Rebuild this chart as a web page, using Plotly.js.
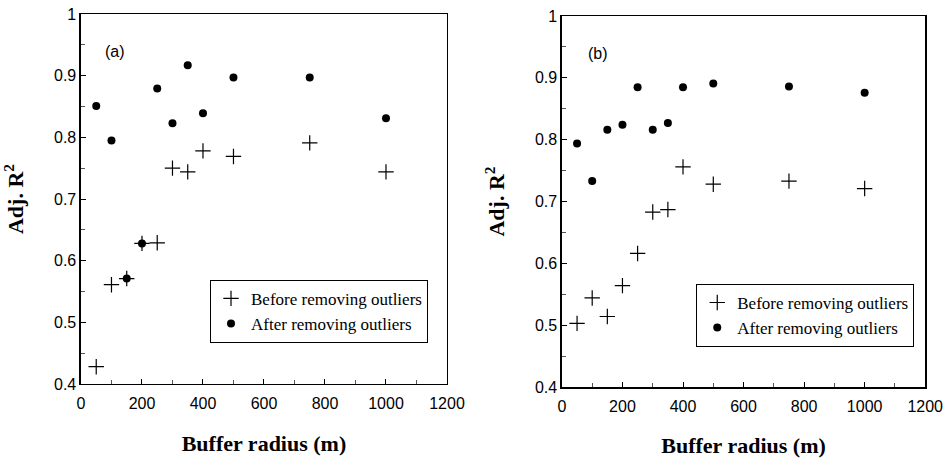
<!DOCTYPE html>
<html>
<head>
<meta charset="utf-8">
<script src="https://cdn.plot.ly/plotly-3.0.1.min.js"></script>
<style>html,body{margin:0;padding:0;background:#fff;}#chart{width:946px;height:458px;}</style>
</head>
<body>
<div id="chart"></div>
<script>
// Buffer radii (m)
const radiusA = [50, 100, 150, 200, 250, 300, 350, 400, 500, 750, 1000];
const beforeA = [0.428, 0.561, 0.571, 0.628, 0.629, 0.750, 0.744, 0.778, 0.769, 0.791, 0.744];
const afterA  = [0.851, 0.795, 0.571, 0.628, 0.879, 0.823, 0.917, 0.839, 0.897, 0.897, 0.831];

const radiusB = [50, 100, 150, 200, 250, 300, 350, 400, 500, 750, 1000];
const beforeB = [0.503, 0.544, 0.514, 0.564, 0.616, 0.683, 0.687, 0.756, 0.728, 0.733, 0.721];
const afterB  = [0.794, 0.733, 0.816, 0.824, 0.885, 0.816, 0.827, 0.885, 0.891, 0.886, 0.876];

const seriesNames = ['Before removing outliers', 'After removing outliers'];
const panelLabels = ['(a)', '(b)'];

const plusMarker = {symbol: 'cross-thin', size: 11, color: '#000', line: {color: '#000', width: 1.2}};
const dotMarker = {symbol: 'circle', size: 8, color: '#000', line: {width: 0}};

const traces = [
  {x: radiusA, y: afterA, name: seriesNames[1], mode: 'markers', type: 'scatter', marker: dotMarker, xaxis: 'x', yaxis: 'y', legend: 'legend', legendrank: 2},
  {x: radiusA, y: beforeA, name: seriesNames[0], mode: 'markers', type: 'scatter', marker: plusMarker, xaxis: 'x', yaxis: 'y', legend: 'legend', legendrank: 1},
  {x: radiusB, y: afterB, name: seriesNames[1], mode: 'markers', type: 'scatter', marker: dotMarker, xaxis: 'x2', yaxis: 'y2', legend: 'legend2', legendrank: 2},
  {x: radiusB, y: beforeB, name: seriesNames[0], mode: 'markers', type: 'scatter', marker: plusMarker, xaxis: 'x2', yaxis: 'y2', legend: 'legend2', legendrank: 1}
];

const tickFont = {family: 'Liberation Sans, Arial, sans-serif', size: 16, color: '#000'};
const titleFont = {family: 'Liberation Serif, Times New Roman, serif', size: 22, color: '#000', weight: 'bold'};

function xax(domain, anchor) {
  return {
    domain: domain, anchor: anchor, range: [0, 1200], dtick: 200, tick0: 0,
    showline: true, mirror: true, linecolor: '#000', linewidth: 1.5,
    ticks: 'inside', ticklen: 5, tickcolor: '#000', tickwidth: 1,
    minor: {dtick: 100, ticks: 'inside', ticklen: 4, tickcolor: '#555', tickwidth: 1},
    showgrid: false, zeroline: false, tickfont: tickFont, ticklabelstandoff: 4,
    title: {text: 'Buffer radius (m)', font: titleFont, standoff: 25}
  };
}
function yax(domain, anchor) {
  return {
    domain: domain, anchor: anchor, range: [0.4, 1], dtick: 0.1, tick0: 0.4,
    showline: true, mirror: true, linecolor: '#000', linewidth: 1.5,
    ticks: 'inside', ticklen: 5, tickcolor: '#000', tickwidth: 1,
    minor: {dtick: 0.05, ticks: 'inside', ticklen: 4, tickcolor: '#555', tickwidth: 1},
    showgrid: false, zeroline: false, tickfont: tickFont,
    title: {text: 'Adj. R<sup>2</sup>', font: titleFont, standoff: 24}
  };
}

const legendFont = {family: 'Liberation Serif, Times New Roman, serif', size: 17, color: '#000'};

const layout = {
  width: 946, height: 458,
  margin: {l: 0, r: 0, t: 0, b: 0},
  paper_bgcolor: '#fff', plot_bgcolor: '#fff',
  showlegend: true,
  xaxis: xax([0.0856, 0.4725], 'y'),
  yaxis: yax([0.1616, 0.9694], 'x'),
  xaxis2: xax([0.594, 0.978], 'y2'),
  yaxis2: yax([0.155, 0.965], 'x2'),
  legend: {x: 0.222, y: 0.389, xanchor: 'left', yanchor: 'top', bgcolor: '#fff', bordercolor: '#000', borderwidth: 1, font: legendFont, tracegroupgap: 0, itemwidth: 30},
  legend2: {x: 0.736, y: 0.38, xanchor: 'left', yanchor: 'top', bgcolor: '#fff', bordercolor: '#000', borderwidth: 1, font: legendFont, tracegroupgap: 0, itemwidth: 30},
  annotations: [
    {text: panelLabels[0], xref: 'x domain', yref: 'y domain', x: 0.06, y: 0.9, xanchor: 'left', yanchor: 'middle', showarrow: false, font: {family: 'Liberation Sans, Arial, sans-serif', size: 16, color: '#000'}},
    {text: panelLabels[1], xref: 'x2 domain', yref: 'y2 domain', x: 0.065, y: 0.9, xanchor: 'left', yanchor: 'middle', showarrow: false, font: {family: 'Liberation Sans, Arial, sans-serif', size: 16, color: '#000'}}
  ]
};

Plotly.newPlot('chart', traces, layout, {staticPlot: true, displayModeBar: false});
</script>
</body>
</html>
